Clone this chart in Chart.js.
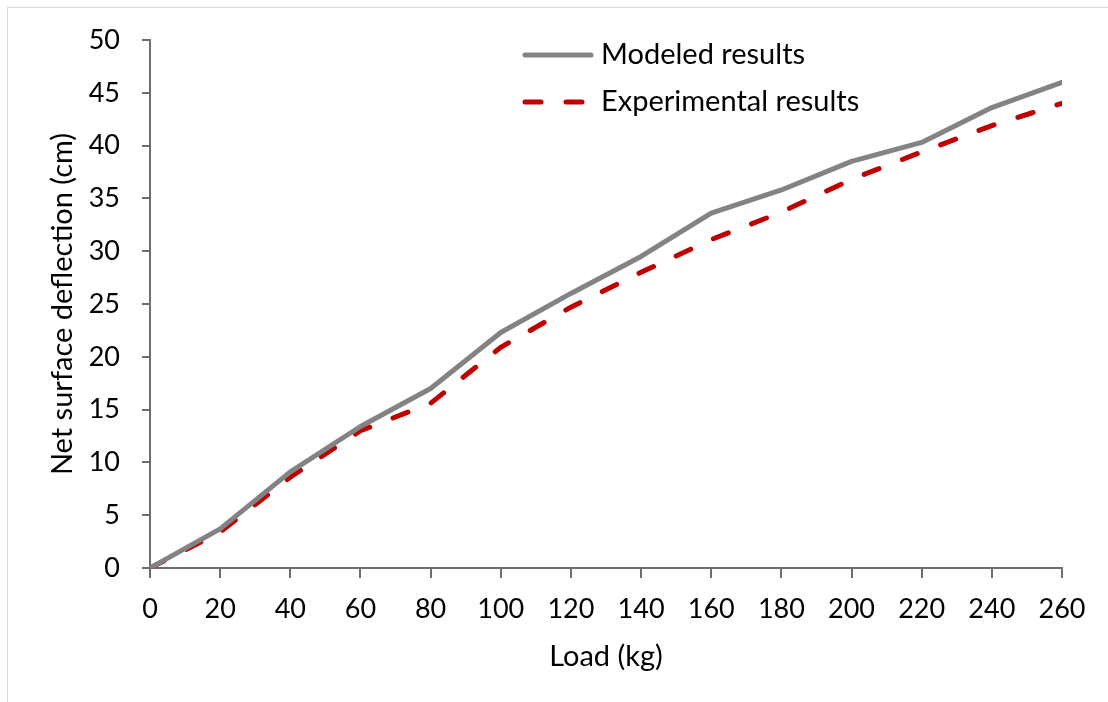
<!DOCTYPE html>
<html>
<head>
<meta charset="utf-8">
<script src="https://cdn.jsdelivr.net/npm/chart.js@4"></script>
<style>
    html, body { margin: 0; padding: 0; background: #ffffff; }
    #frame {
        position: absolute; left: 7px; top: 7px; width: 1101px; height: 695px;
        border-left: 1px solid #d9d9d9; border-top: 1px solid #d9d9d9;
    }
    #wrap { position: absolute; left: 0; top: 0; width: 1108px; height: 702px; }
</style>
</head>
<body>
<div id="frame"></div>
<div id="wrap"><canvas id="chart1" width="1108" height="702"></canvas></div>
<script>
// load steps (kg) and deflections (cm)
var loads = [0, 20, 40, 60, 80, 100, 120, 140, 160, 180, 200, 220, 240, 260];
var modeled = [0, 3.7, 9.1, 13.4, 17.0, 22.3, 26.0, 29.5, 33.6, 35.8, 38.5, 40.3, 43.6, 46.0];
var experimental = [0, 3.4, 8.6, 13.0, 15.6, 20.9, 24.7, 28.0, 31.1, 33.7, 36.8, 39.4, 41.9, 44.0];
var seriesNames = ['Modeled results', 'Experimental results'];

var fontFamily = 'Lato, "Open Sans", sans-serif';
var axisColor = '#6e6e6e';

var toPoints = function (ys) {
    var pts = [];
    for (var i = 0; i < loads.length; i++) {
        pts.push({ x: loads[i], y: ys[i] });
    }
    return pts;
};

// legend drawn inside the plot area, like the original
var insideLegend = {
    id: 'insideLegend',
    afterDraw: function (chart) {
        var ctx = chart.ctx;
        var rows = [{ y: 55 }, { y: 102 }];
        ctx.save();
        chart.data.datasets.forEach(function (ds, i) {
            var y = rows[i].y;
            ctx.strokeStyle = ds.borderColor;
            ctx.lineWidth = ds.borderWidth;
            ctx.lineCap = 'round';
            ctx.setLineDash(ds.borderDash || []);
            ctx.beginPath();
            ctx.moveTo(525, y);
            ctx.lineTo(591, y);
            ctx.stroke();
            ctx.setLineDash([]);
            ctx.fillStyle = '#000000';
            ctx.font = '29px ' + fontFamily;
            ctx.textBaseline = 'middle';
            ctx.textAlign = 'left';
            ctx.fillText(ds.label, 601, y);
        });
        ctx.restore();
    }
};

const config = {
    type: 'line',
    data: {
        datasets: [{
            label: seriesNames[0],
            data: toPoints(modeled),
            borderColor: '#838383',
            borderWidth: 5,
            pointRadius: 0,
            fill: false,
            tension: 0,
            borderCapStyle: 'round',
            borderJoinStyle: 'round'
        }, {
            label: seriesNames[1],
            data: toPoints(experimental),
            borderColor: '#c00000',
            borderWidth: 5,
            borderDash: [16, 25],
            borderCapStyle: 'round',
            pointRadius: 0,
            fill: false,
            tension: 0
        }]
    },
    options: {
        responsive: false,
        animation: false,
        layout: {
            padding: { left: 0, top: 40, right: 46, bottom: 0 }
        },
        plugins: {
            legend: { display: false },
            tooltip: { enabled: false }
        },
        scales: {
            x: {
                type: 'linear',
                min: 0,
                max: 260,
                afterFit: function (scale) { scale.height = 134; },
                ticks: {
                    stepSize: 20,
                    color: '#000000',
                    padding: 15,
                    maxRotation: 0,
                    font: { family: fontFamily, size: 27 }
                },
                grid: {
                    drawOnChartArea: false,
                    color: axisColor,
                    lineWidth: 2,
                    tickLength: 10
                },
                border: { color: axisColor, width: 2 },
                title: {
                    display: true,
                    text: 'Load (kg)',
                    color: '#000000',
                    padding: { top: 10, bottom: 28 },
                    font: { family: fontFamily, size: 29 }
                }
            },
            y: {
                min: 0,
                max: 50,
                afterFit: function (scale) { scale.width = 150; },
                ticks: {
                    stepSize: 5,
                    color: '#000000',
                    padding: 22,
                    font: { family: fontFamily, size: 27 }
                },
                grid: {
                    drawOnChartArea: false,
                    color: axisColor,
                    lineWidth: 2,
                    tickLength: 8
                },
                border: { color: axisColor, width: 2 },
                title: {
                    display: true,
                    text: 'Net surface deflection (cm)',
                    color: '#000000',
                    padding: { top: 45, bottom: 0 },
                    font: { family: fontFamily, size: 29 }
                }
            }
        }
    },
    plugins: [insideLegend]
};

var chart1 = new Chart(document.getElementById('chart1'), config);
</script>
</body>
</html>
